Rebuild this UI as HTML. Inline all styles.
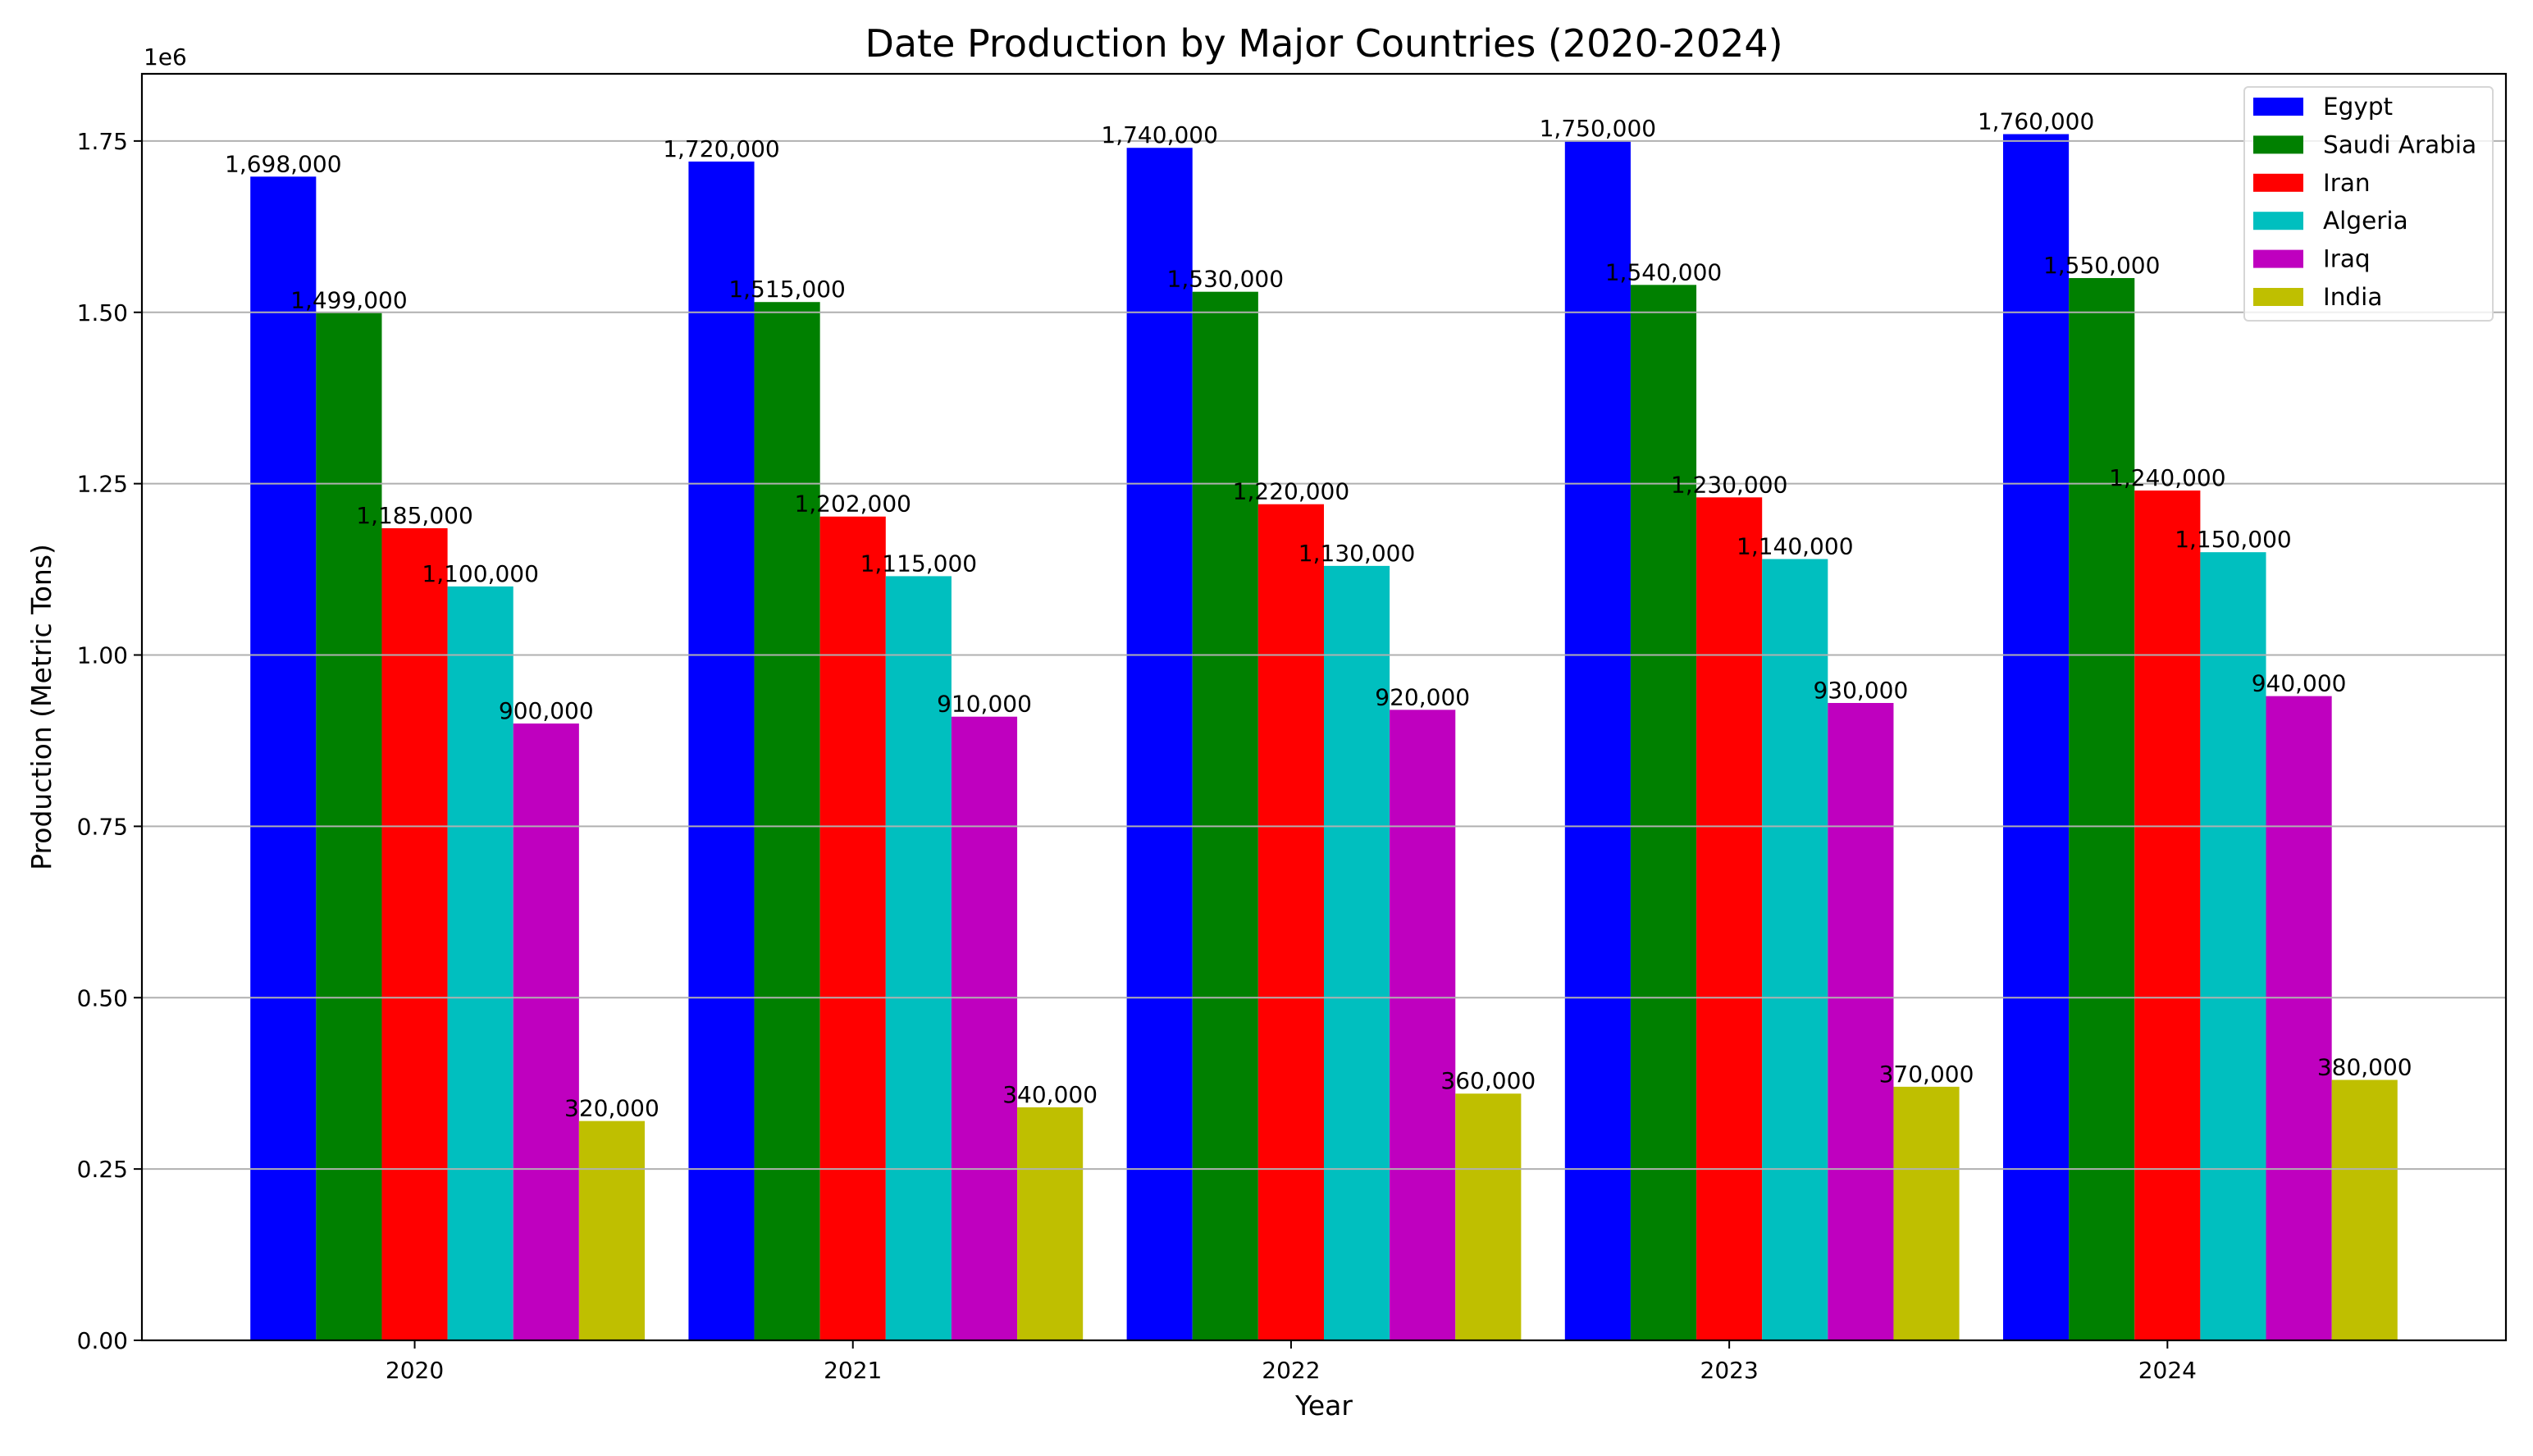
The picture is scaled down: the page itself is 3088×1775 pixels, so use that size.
<!DOCTYPE html>
<html><head><meta charset="utf-8">
<style>
html,body{margin:0;padding:0;background:#fff;}
svg{display:block;font-family:"DejaVu Sans","Liberation Sans",sans-serif;}
</style></head>
<body>
<svg id="chart" width="3088" height="1775" viewBox="0 0 3088 1775" xmlns="http://www.w3.org/2000/svg">
<rect x="0" y="0" width="3088" height="1775" fill="#fff"/>
<text x="1614" y="69" font-size="46" text-anchor="middle" fill="#000">Date Production by Major Countries (2020-2024)</text>
<text x="1614" y="1725" font-size="33" text-anchor="middle" fill="#000">Year</text>
<text x="0" y="0" font-size="33" text-anchor="middle" fill="#000" transform="translate(62,862) rotate(-90)">Production (Metric Tons)</text>
<text x="175" y="79" font-size="28" fill="#000">1e6</text>
<g id="bars"></g>
<g id="grid"></g>
<g id="labels"></g>
<g id="axes"></g>
<g id="legend"></g>
</svg>
<script>
const years = ["2020","2021","2022","2023","2024"];
const countries = ["Egypt","Saudi Arabia","Iran","Algeria","Iraq","India"];
const colors = ["#0000ff","#008000","#ff0000","#00bfbf","#bf00bf","#bfbf00"];
const egypt = [1698000,1720000,1740000,1750000,1760000];
const saudi = [1499000,1515000,1530000,1540000,1550000];
const iran = [1185000,1202000,1220000,1230000,1240000];
const algeria = [1100000,1115000,1130000,1140000,1150000];
const iraq = [900000,910000,920000,930000,940000];
const india = [320000,340000,360000,370000,380000];
const yTicks = [0,250000,500000,750000,1000000,1250000,1500000,1750000];
const yTickLabels = ["0.00","0.25","0.50","0.75","1.00","1.25","1.50","1.75"];
const series = [egypt,saudi,iran,algeria,iraq,india];

const NS="http://www.w3.org/2000/svg";
const L=173,R=3055,T=90,B=1634;
const barW=0.15;
const xmin=-0.6225,xmax=4.7725;
const ymax=Math.max(...series.flat())*1.05;
function xs(v){return L+(v-xmin)/(xmax-xmin)*(R-L);}
function ys(v){return B-v/ymax*(B-T);}
function mk(tag,attrs,parent,text){const e=document.createElementNS(NS,tag);for(const k in attrs)e.setAttribute(k,attrs[k]);if(text!==undefined)e.textContent=text;parent.appendChild(e);return e;}
const gBars=document.getElementById('bars'),gGrid=document.getElementById('grid'),gLab=document.getElementById('labels'),gAx=document.getElementById('axes'),gLeg=document.getElementById('legend');
const fmt=n=>n.toString().replace(/\B(?=(\d{3})+(?!\d))/g,",");

series.forEach((vals,si)=>{
  vals.forEach((v,yi)=>{
    const c=yi+(si-2)*barW;
    const x0=xs(c-barW/2),x1=xs(c+barW/2);
    const r=mk('rect',{x:x0,y:ys(v),width:x1-x0,height:B-ys(v),fill:colors[si]},gBars);
    
    
    const t=mk('text',{x:(x0+x1)/2,y:ys(v)-6,'font-size':28,'text-anchor':'middle',fill:'#000'},gLab,fmt(v));
    
    
  });
});
yTicks.forEach((v,i)=>{
  const y=ys(v);
  const g=mk('line',{x1:L,x2:R,y1:y,y2:y,stroke:'#b0b0b0','stroke-width':2},gGrid);
  
  
  const tk=mk('line',{x1:L-10,x2:L,y1:y,y2:y,stroke:'#000','stroke-width':2},gAx);
  
  
  const tl=mk('text',{x:L-17,y:y+10,'font-size':28,'text-anchor':'end',fill:'#000'},gAx,yTickLabels[i]);
  
  
});
years.forEach((yr,i)=>{
  const x=xs(i);
  const tk=mk('line',{x1:x,x2:x,y1:B,y2:B+10,stroke:'#000','stroke-width':2},gAx);
  
  
  const tl=mk('text',{x:x,y:B+46,'font-size':28,'text-anchor':'middle',fill:'#000'},gAx,yr);
  
  
});
const frame=mk('rect',{x:L,y:T,width:R-L,height:B-T,fill:'none',stroke:'#000','stroke-width':2.2},gAx);



const lb=mk('rect',{x:2736,y:106,width:303,height:285,rx:5,fill:'#fff','fill-opacity':0.8,stroke:'#d6d6d6','stroke-width':2},gLeg);


countries.forEach((c,i)=>{
  const y=130+i*46.4;
  const g=mk('g',{},gLeg);
  
  
  mk('rect',{x:2747,y:y-11,width:61,height:22,fill:colors[i]},g);
  mk('text',{x:2832,y:y+10,'font-size':29.5,fill:'#000'},g,c);
});
</script>
</body></html>
